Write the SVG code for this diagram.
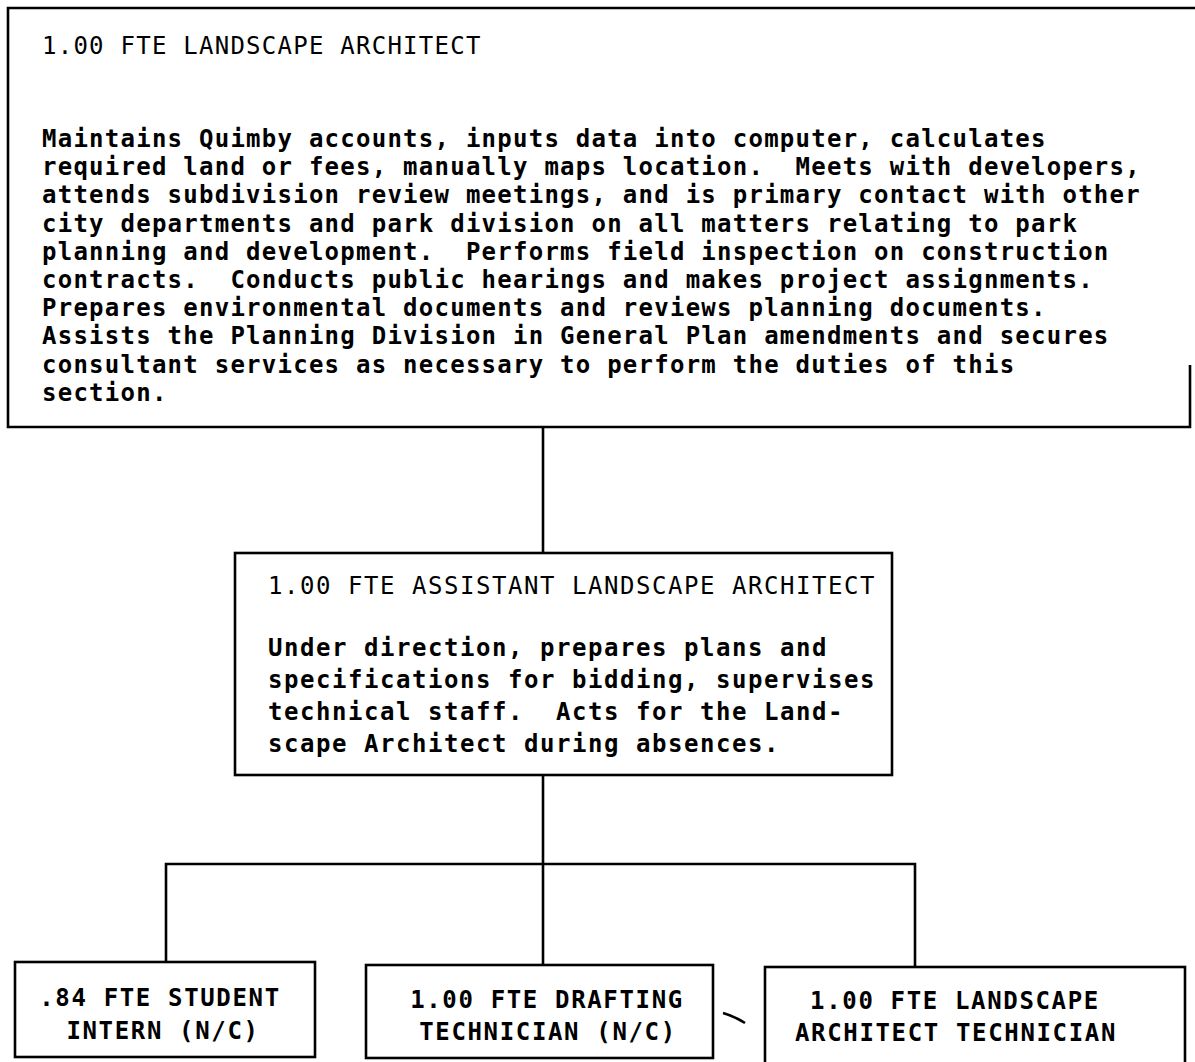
<svg xmlns="http://www.w3.org/2000/svg" width="1195" height="1062" viewBox="0 0 1195 1062" xml:space="preserve">
<style>
.box{fill:none;stroke:#000;stroke-width:2.6}
.ln{fill:none;stroke:#000;stroke-width:2.6}
text{font-family:"DejaVu Sans Mono","Liberation Mono",monospace;font-size:24px;fill:#000;white-space:pre}
.t1{letter-spacing:1.25px}
.hd{font-weight:normal}
.bd{font-weight:bold}
.t2{letter-spacing:1.55px}
.t3{letter-spacing:1.65px;font-weight:bold}
</style>
<rect width="1195" height="1062" fill="#fff"/>
<g id="connectors">
<line class="ln" x1="543" y1="427" x2="543" y2="553"/>
<line class="ln" x1="543" y1="775" x2="543" y2="965"/>
<polyline class="ln" points="166,962 166,864 915,864 915,967"/>
<path class="ln" d="M723,1013 Q734,1016 745,1023" stroke-width="1.5"/>
</g>
<g id="landscape-architect">
<path class="box" d="M1195,8 H8 V427 H1190 V365"/>
<text class="t1 hd" x="42" y="54">1.00 FTE LANDSCAPE ARCHITECT</text>
<g class="t1 bd">
<text x="42" y="147">Maintains Quimby accounts, inputs data into computer, calculates</text>
<text x="42" y="175">required land or fees, manually maps location.  Meets with developers,</text>
<text x="42" y="203">attends subdivision review meetings, and is primary contact with other</text>
<text x="42" y="232">city departments and park division on all matters relating to park</text>
<text x="42" y="260">planning and development.  Performs field inspection on construction</text>
<text x="42" y="288">contracts.  Conducts public hearings and makes project assignments.</text>
<text x="42" y="316">Prepares environmental documents and reviews planning documents.</text>
<text x="42" y="344">Assists the Planning Division in General Plan amendments and secures</text>
<text x="42" y="373">consultant services as necessary to perform the duties of this</text>
<text x="42" y="401">section.</text>
</g>
</g>
<g id="assistant-landscape-architect">
<rect class="box" x="235" y="553" width="657" height="222"/>
<text class="t2 hd" x="268" y="594">1.00 FTE ASSISTANT LANDSCAPE ARCHITECT</text>
<g class="t2 bd">
<text x="268" y="656">Under direction, prepares plans and</text>
<text x="268" y="688">specifications for bidding, supervises</text>
<text x="268" y="720">technical staff.  Acts for the Land-</text>
<text x="268" y="752">scape Architect during absences.</text>
</g>
</g>
<g id="student-intern">
<rect class="box" x="15" y="962" width="300" height="95"/>
<text class="t3" x="160" y="1006" text-anchor="middle">.84 FTE STUDENT</text>
<text class="t3" x="163" y="1039" text-anchor="middle">INTERN (N/C)</text>
</g>
<g id="drafting-technician">
<rect class="box" x="366" y="965" width="347" height="93"/>
<text class="t3" x="547" y="1008" text-anchor="middle">1.00 FTE DRAFTING</text>
<text class="t3" x="548" y="1040" text-anchor="middle">TECHNICIAN (N/C)</text>
</g>
<g id="landscape-architect-technician">
<rect class="box" x="765" y="967" width="420" height="100"/>
<text class="t3" x="955" y="1009" text-anchor="middle">1.00 FTE LANDSCAPE</text>
<text class="t3" x="956" y="1041" text-anchor="middle">ARCHITECT TECHNICIAN</text>
</g>
</svg>
